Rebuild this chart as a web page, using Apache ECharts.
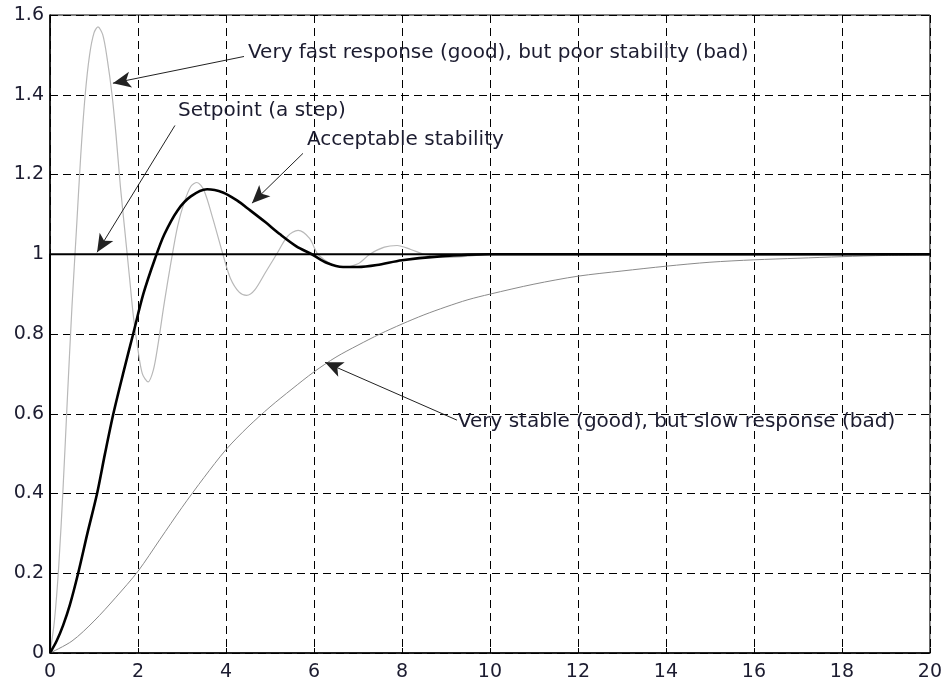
<!DOCTYPE html>
<html>
<head>
<meta charset="utf-8">
<script src="https://cdn.jsdelivr.net/npm/echarts@6/dist/echarts.min.js"></script>
<style>
  html, body { margin: 0; padding: 0; background: #fff; }
  #main { width: 945px; height: 686px; }
</style>
</head>
<body>
<div id="main"></div>
<script>
// step setpoint
var setpoint = [[0, 0], [0, 1], [20, 1]];

// fast response, poor stability (light grey)
var fastResp = [
  [0, 0], [0.1, 0.08], [0.2, 0.22], [0.3, 0.42], [0.4, 0.65], [0.5, 0.87], [0.6, 1.06],
  [0.7, 1.25], [0.8, 1.4], [0.9, 1.5], [1.0, 1.555], [1.09, 1.57], [1.2, 1.55],
  [1.3, 1.49], [1.41, 1.4], [1.5, 1.3], [1.6, 1.17], [1.7, 1.06], [1.8, 0.95],
  [1.9, 0.84], [2.0, 0.76], [2.1, 0.7], [2.23, 0.68], [2.35, 0.71], [2.45, 0.77],
  [2.6, 0.88], [2.75, 0.98], [2.9, 1.07], [3.05, 1.13], [3.2, 1.17], [3.34, 1.18],
  [3.5, 1.16], [3.7, 1.09], [3.93, 1.0], [4.1, 0.94], [4.3, 0.905], [4.47, 0.897],
  [4.65, 0.91], [4.9, 0.955], [5.15, 1.0], [5.4, 1.045], [5.64, 1.06], [5.9, 1.04],
  [6.09, 1.0], [6.4, 0.975], [6.66, 0.967], [7.0, 0.976], [7.27, 1.0], [7.6, 1.018],
  [7.89, 1.022], [8.2, 1.012], [8.5, 1.0], [9.0, 0.992], [9.5, 0.995], [10, 1.0], [20, 1.0]
];

// acceptable stability (thick black)
var acceptable = [
  [0, 0], [0.15, 0.03], [0.3, 0.07], [0.45, 0.12], [0.64, 0.2], [0.85, 0.3], [1.07, 0.4],
  [1.25, 0.5], [1.44, 0.6], [1.66, 0.7], [1.89, 0.8], [2.12, 0.9], [2.39, 0.99],
  [2.6, 1.05], [2.9, 1.11], [3.2, 1.145], [3.57, 1.163], [3.93, 1.155], [4.25, 1.135],
  [4.55, 1.11], [4.9, 1.08], [5.23, 1.05], [5.6, 1.02], [5.95, 1.0], [6.3, 0.978],
  [6.66, 0.968], [7.0, 0.968], [7.43, 0.973], [8.0, 0.985], [8.8, 0.994], [10, 1.0], [20, 1.0]
];

// very stable, slow response (thin grey)
var slowResp = [
  [0, 0], [0.5, 0.03], [1, 0.08], [1.5, 0.14], [2, 0.205], [2.5, 0.285], [3, 0.365],
  [3.5, 0.44], [4, 0.51], [4.5, 0.567], [5, 0.617], [5.5, 0.662], [6, 0.705],
  [6.5, 0.742], [7, 0.772], [7.5, 0.8], [8, 0.825], [8.5, 0.848], [9, 0.868],
  [9.5, 0.886], [10, 0.9], [11, 0.925], [12, 0.945], [13, 0.958], [14, 0.97],
  [15, 0.98], [16, 0.986], [17, 0.99], [18, 0.994], [19, 0.997], [20, 0.998]
];

// annotations: text, text anchor (left-middle), arrow start, arrow tip
var annoText = [
  'Very fast response (good), but poor stability (bad)',
  'Setpoint (a step)',
  'Acceptable stability',
  'Very stable (good), but slow response (bad)'
];
var annoTextAt = [[4.5, 1.504], [2.91, 1.361], [5.84, 1.286], [9.27, 0.579]];
var arrowFrom = [[4.41, 1.496], [2.84, 1.323], [5.75, 1.253], [9.25, 0.584]];
var arrowTo = [[1.43, 1.429], [1.07, 1.005], [4.59, 1.128], [6.25, 0.729]];

var FONT = 'DejaVu Sans';
var chart = echarts.init(document.getElementById('main'));

var arrows = [];
for (var i = 0; i < arrowFrom.length; i++) {
  arrows.push([{ coord: arrowFrom[i] }, { coord: arrowTo[i] }]);
}
var labels = [];
for (var i = 0; i < annoText.length; i++) {
  labels.push({ coord: annoTextAt[i], value: annoText[i] });
}

var option = {
  animation: false,
  backgroundColor: '#fff',
  grid: {
    left: 50, right: 15, top: 15, bottom: 33,
    show: true, borderColor: '#000', borderWidth: 1
  },
  xAxis: {
    type: 'value', min: 0, max: 20, interval: 2,
    axisLine: { lineStyle: { color: '#000', width: 1.5 } },
    axisTick: { inside: true, length: 5, lineStyle: { color: '#000' } },
    axisLabel: { color: '#1c1c30', fontFamily: FONT, fontSize: 19, margin: 10 },
    splitLine: { show: true, lineStyle: { color: '#000', type: [8, 5], width: 1 } }
  },
  yAxis: {
    type: 'value', min: 0, max: 1.6, interval: 0.2,
    axisLine: { show: true, lineStyle: { color: '#000', width: 1.5 } },
    axisTick: { show: true, inside: true, length: 5, lineStyle: { color: '#000' } },
    axisLabel: { color: '#1c1c30', fontFamily: FONT, fontSize: 19, margin: 6 },
    splitLine: { show: true, lineStyle: { color: '#000', type: [8, 5], width: 1 } }
  },
  series: [
    {
      name: 'slow', type: 'line', data: slowResp, showSymbol: false, smooth: 0.3,
      lineStyle: { color: '#8a8a8a', width: 1 }, z: 2
    },
    {
      name: 'fast', type: 'line', data: fastResp, showSymbol: false, smooth: 0.3,
      lineStyle: { color: '#b8b8b8', width: 1.2 }, z: 2
    },
    {
      name: 'setpoint', type: 'line', data: setpoint, showSymbol: false,
      lineStyle: { color: '#000', width: 2 }, z: 3
    },
    {
      name: 'acceptable', type: 'line', data: acceptable, showSymbol: false, smooth: 0.3,
      lineStyle: { color: '#000', width: 2.6 }, z: 4,
      markLine: {
        silent: true, symbol: ['none', 'arrow'], symbolSize: [12, 18],
        lineStyle: { color: '#222', width: 1, type: 'solid' },
        label: { show: false },
        data: arrows
      },
      markPoint: {
        silent: true, symbol: 'circle', symbolSize: 0,
        label: {
          show: true, position: 'inside', align: 'left', verticalAlign: 'middle',
          color: '#1c1c30', fontFamily: FONT, fontSize: 20,
          formatter: function (p) { return p.value; }
        },
        data: labels
      }
    }
  ]
};
chart.setOption(option);
</script>
</body>
</html>
